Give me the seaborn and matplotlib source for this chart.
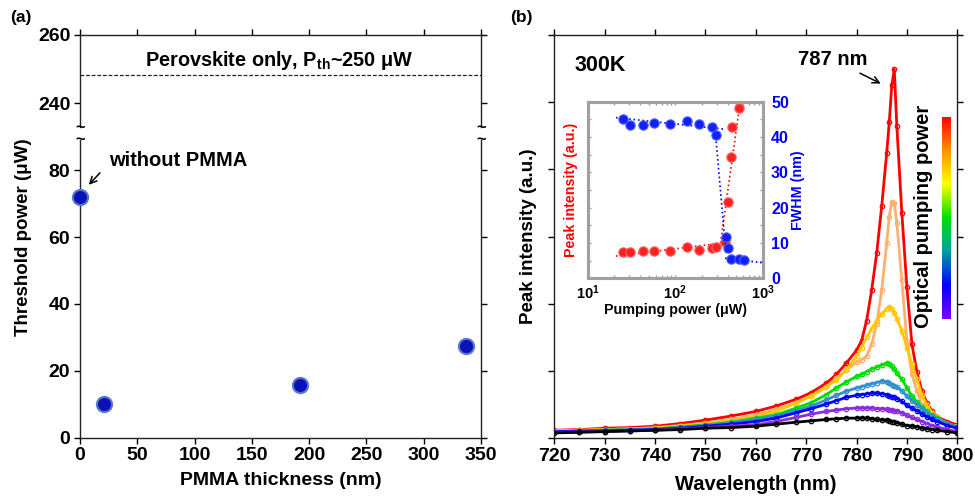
import numpy as np
import pandas as pd
import matplotlib
matplotlib.use("Agg")
import matplotlib.pyplot as plt
import matplotlib.ticker as mticker
import seaborn as sns
from matplotlib.colors import LinearSegmentedColormap

# ---- panel (a): lasing threshold vs PMMA thickness ----
pmma_thickness = [0, 20.5, 192, 336.5]
threshold_power = [71.9, 10.0, 15.9, 27.4]
perovskite_only = 248.2

# ---- panel (b): emission spectra, low -> high pumping power ----
wavelength = [720, 725, 730, 735, 740, 745, 750, 755, 760, 764, 768, 771, 774, 776, 778,
              780, 781, 782, 783, 784, 785, 786, 786.5, 787, 787.5, 788, 789, 790, 791,
              792, 793, 794, 795, 796, 798, 800]
spec_black = [0.08, 0.09, 0.10, 0.11, 0.12, 0.13, 0.15, 0.16, 0.18, 0.21, 0.24, 0.26, 0.28, 0.29, 0.30,
              0.30, 0.30, 0.30, 0.29, 0.28, 0.27, 0.27, 0.26, 0.25, 0.25, 0.23, 0.21, 0.19, 0.18,
              0.17, 0.15, 0.14, 0.13, 0.12, 0.10, 0.08]
spec_purple = [0.09, 0.095, 0.10, 0.11, 0.12, 0.14, 0.16, 0.18, 0.20, 0.25, 0.31, 0.36, 0.40, 0.42, 0.44,
               0.45, 0.45, 0.45, 0.45, 0.44, 0.44, 0.43, 0.42, 0.42, 0.41, 0.41, 0.38, 0.34, 0.31,
               0.28, 0.25, 0.22, 0.19, 0.17, 0.13, 0.10]
spec_blue = [0.10, 0.105, 0.11, 0.12, 0.13, 0.15, 0.18, 0.21, 0.25, 0.30, 0.38, 0.44, 0.51, 0.56, 0.61,
             0.64, 0.65, 0.66, 0.67, 0.67, 0.66, 0.65, 0.63, 0.62, 0.61, 0.59, 0.55, 0.49, 0.45,
             0.41, 0.36, 0.32, 0.28, 0.25, 0.19, 0.15]
spec_lightblue = [0.10, 0.11, 0.12, 0.13, 0.14, 0.16, 0.19, 0.23, 0.28, 0.33, 0.41, 0.48, 0.57, 0.64, 0.70,
                  0.75, 0.77, 0.79, 0.81, 0.83, 0.85, 0.84, 0.82, 0.80, 0.78, 0.76, 0.71, 0.63, 0.56,
                  0.50, 0.44, 0.38, 0.33, 0.29, 0.22, 0.17]
spec_green = [0.10, 0.11, 0.12, 0.13, 0.14, 0.17, 0.20, 0.24, 0.30, 0.35, 0.45, 0.53, 0.65, 0.75, 0.84,
              0.92, 0.95, 0.99, 1.03, 1.06, 1.09, 1.12, 1.11, 1.07, 1.03, 0.97, 0.88, 0.75, 0.63,
              0.54, 0.47, 0.40, 0.34, 0.30, 0.22, 0.17]
spec_gold = [0.11, 0.12, 0.13, 0.14, 0.15, 0.18, 0.21, 0.26, 0.32, 0.40, 0.52, 0.63, 0.76, 0.87, 1.02,
             1.22, 1.35, 1.50, 1.63, 1.75, 1.85, 1.93, 1.96, 1.93, 1.87, 1.78, 1.60, 1.35, 1.10,
             0.88, 0.64, 0.49, 0.38, 0.31, 0.22, 0.17]
spec_peach = [0.11, 0.12, 0.13, 0.14, 0.16, 0.19, 0.23, 0.28, 0.35, 0.43, 0.53, 0.63, 0.77, 0.89, 1.02,
              1.13, 1.17, 1.22, 1.40, 1.70, 2.20, 2.90, 3.30, 3.52, 3.50, 3.20, 2.35, 1.45, 0.95,
              0.70, 0.50, 0.40, 0.32, 0.27, 0.21, 0.18]
spec_red = [0.12, 0.13, 0.15, 0.16, 0.18, 0.22, 0.27, 0.33, 0.40, 0.48, 0.58, 0.68, 0.82, 0.95, 1.12,
            1.31, 1.45, 1.75, 2.20, 2.75, 3.45, 4.25, 4.70, 5.25, 5.49, 4.65, 3.35, 2.25, 1.40,
            0.98, 0.70, 0.52, 0.40, 0.32, 0.25, 0.20]
spectra = [spec_red, spec_peach, spec_gold, spec_green, spec_lightblue, spec_blue, spec_purple, spec_black]
spectra_colors = ["#ff0000", "#ffb070", "#ffc800", "#00dd00", "#2f8fd0", "#0000ff", "#8a2be2", "#000000"]
cbar_colors = ["#8000ff", "#0000ff", "#00a0a0", "#00e000", "#ffff00", "#ff9000", "#ff0000"]

# ---- inset: peak intensity and FWHM vs pumping power ----
pump_fwhm = [25.5, 30.4, 42.5, 57.2, 87.2, 137.8, 188.9, 266, 292.8, 380.8, 398, 437.7, 540.7, 611]
fwhm = [45.0, 43.4, 43.5, 43.9, 43.6, 44.5, 43.8, 42.8, 40.6, 11.8, 8.5, 5.5, 5.5, 5.2]
pump_int = [25.5, 30.4, 42.5, 57.2, 87.2, 137.8, 188.9, 266, 292.8, 370, 398, 438, 443, 536]
peak_int = [7.5, 7.45, 7.7, 7.6, 7.7, 8.8, 8.0, 8.7, 8.9, 10.4, 21.7, 34.3, 42.8, 48.3]
fit_int_low_x, fit_int_low_y = [21, 325], [6.3, 9.9]
fit_int_high_x, fit_int_high_y = [319, 551], [7.5, 49.8]
fit_fwhm_a_x, fit_fwhm_a_y = [21, 371], [45.5, 42.2]
fit_fwhm_b_x, fit_fwhm_b_y = [285, 381], [42.5, 6.6]
fit_fwhm_c_x, fit_fwhm_c_y = [371, 1000], [5.7, 4.4]

sns.set_theme(style="ticks")
plt.rcParams["font.family"] = ["Liberation Sans", "DejaVu Sans"]
plt.rcParams["font.weight"] = "bold"
plt.rcParams["axes.labelweight"] = "bold"
plt.rcParams["mathtext.fontset"] = "custom"
plt.rcParams["mathtext.rm"] = "Liberation Sans:bold"
plt.rcParams["mathtext.bf"] = "Liberation Sans:bold"
plt.rcParams["mathtext.it"] = "Liberation Sans:bold"
for key in ("text.color", "axes.labelcolor", "xtick.color", "ytick.color"):
    plt.rcParams[key] = "black"
plt.rcParams["axes.edgecolor"] = "#222222"
plt.rcParams["axes.linewidth"] = 1.0

fig = plt.figure(figsize=(9.75, 4.96), dpi=100)

# ================= panel (a) =================
ax_lo = fig.add_axes([0.0821, 0.1175, 0.4113, 0.6002])
ax_hi = fig.add_axes([0.0821, 0.744, 0.4113, 0.1855])

sns.scatterplot(x=pmma_thickness, y=threshold_power, ax=ax_lo, s=120, color="#0a12b8",
                edgecolor="#5a78d0", linewidth=1.5, zorder=5, clip_on=False, legend=False)
ax_lo.set_xlim(0, 350)
ax_lo.set_ylim(0, 89)
ax_lo.set_yticks([0, 20, 40, 60, 80])
ax_lo.set_xticks(range(0, 351, 50))
ax_lo.spines["top"].set_visible(False)
ax_lo.tick_params(axis="both", which="both", direction="out", length=4, width=1,
                  right=True, top=False, pad=3, labelsize=14)
ax_lo.set_xlabel("PMMA thickness (nm)", fontsize=14)
ax_lo.xaxis.set_label_coords(0.5, -0.115)
ax_lo.set_ylabel("Threshold power (μW)", fontsize=13.5)
ax_lo.yaxis.set_label_coords(-0.12, 0.674)

ax_hi.set_xlim(0, 350)
ax_hi.set_ylim(233, 260)
ax_hi.set_yticks([240, 260])
ax_hi.set_xticks(range(0, 351, 50))
ax_hi.spines["bottom"].set_visible(False)
ax_hi.tick_params(axis="both", direction="out", length=4, width=1, right=True, top=True,
                  bottom=False, labelbottom=False, labelsize=14, pad=3)
ax_hi.axhline(perovskite_only, color="#222222", lw=0.9, ls=(0, (3, 1.5)))
ax_hi.text(174, 252.6, r"Perovskite only, P$_{\mathrm{th}}$~250 μW", ha="center", va="center",
           fontsize=14.3, fontweight="bold")

# axis break marks
for xf in (0.0821, 0.0821 + 0.4113):
    fig.text(xf, 1 - 133.5 / 496, "~\n~", ha="center", va="center", fontsize=12,
             fontweight="bold", linespacing=0.75)

ax_lo.annotate("", xy=(6, 75), xytext=(19, 79.8),
               arrowprops=dict(arrowstyle="->", lw=1.1, color="black"))
ax_lo.text(25, 82.9, "without PMMA", ha="left", va="center", fontsize=14.5, fontweight="bold")

fig.text(0.010, 0.965, "(a)", fontsize=12.5, fontweight="bold", va="center")
fig.text(0.523, 0.965, "(b)", fontsize=12.5, fontweight="bold", va="center")

# ================= panel (b) =================
ax_b = fig.add_axes([0.5685, 0.1163, 0.4133, 0.8131])
for vals, col in zip(spectra, spectra_colors):
    sns.lineplot(x=wavelength, y=vals, ax=ax_b, color=col, lw=2.0, marker="o", markersize=3.2,
                 markerfacecolor="none", markeredgecolor=col, markeredgewidth=0.9, legend=False)
ax_b.set_xlim(720, 800)
ax_b.set_ylim(0, 6)
ax_b.set_xticks(range(720, 801, 10))
ax_b.set_yticks(range(0, 7))
ax_b.set_yticklabels([])
ax_b.tick_params(axis="both", direction="out", length=4, width=1, right=True, top=True, pad=3)
ax_b.tick_params(axis="x", labelsize=14)
ax_b.set_xlabel("Wavelength (nm)", fontsize=14.5)
ax_b.xaxis.set_label_coords(0.5, -0.091)
ax_b.set_ylabel("Peak intensity (a.u.)", fontsize=13.5)
ax_b.yaxis.set_label_coords(-0.042, 0.5)

ax_b.text(729.1, 5.55, "300K", ha="center", va="center", fontsize=15.5, fontweight="bold")
ax_b.text(775.2, 5.63, "787 nm", ha="center", va="center", fontsize=14.5, fontweight="bold")
ax_b.annotate("", xy=(785.3, 5.26), xytext=(780.2, 5.45),
              arrowprops=dict(arrowstyle="->", lw=1.1, color="black"))

# colour bar for pumping power
cax = fig.add_axes([941.7 / 975, 1 - 319.3 / 496, 9 / 975, 202.6 / 496])
cmap = LinearSegmentedColormap.from_list("pump", cbar_colors)
cax.imshow(np.linspace(0, 1, 256).reshape(-1, 1), aspect="auto", cmap=cmap, origin="lower")
cax.axis("off")
fig.text(923.3 / 975, 1 - 216.7 / 496, "Optical pumping power", rotation=90, ha="center",
         va="center", fontsize=14.5, fontweight="bold")

# ================= inset =================
ax_in = fig.add_axes([0.6028, 0.4389, 0.1795, 0.356])
ax_in2 = ax_in.twinx()
for a in (ax_in, ax_in2):
    a.set_xscale("log")
    a.set_xlim(10, 1000)
    a.set_ylim(0, 50)
    for sp in a.spines.values():
        sp.set_color("#a0a0a0")
        sp.set_linewidth(2.2)

ax_in.plot(fit_int_low_x, fit_int_low_y, color="#ff0000", ls=":", lw=1.2)
ax_in.plot(fit_int_high_x, fit_int_high_y, color="#ff0000", ls=":", lw=1.2)
sns.scatterplot(x=pump_int, y=peak_int, ax=ax_in, color="#ff2020", s=45, edgecolor="#ff6060",
                linewidth=0.8, zorder=4, legend=False)
ax_in2.plot(fit_fwhm_a_x, fit_fwhm_a_y, color="#0000ff", ls=":", lw=1.2)
ax_in2.plot(fit_fwhm_b_x, fit_fwhm_b_y, color="#0000ff", ls=":", lw=1.2)
ax_in2.plot(fit_fwhm_c_x, fit_fwhm_c_y, color="#0000ff", ls=":", lw=1.2)
sns.scatterplot(x=pump_fwhm, y=fwhm, ax=ax_in2, color="#1020ff", s=45, edgecolor="#5060ff",
                linewidth=0.8, zorder=5, legend=False)

ax_in.set_xticks([10, 100, 1000])
ax_in.set_xticklabels([r"$\mathbf{10^{1}}$", r"$\mathbf{10^{2}}$", r"$\mathbf{10^{3}}$"])
ax_in.xaxis.set_minor_locator(mticker.LogLocator(base=10, subs=np.arange(2, 10)))
ax_in.xaxis.set_minor_formatter(mticker.NullFormatter())
ax_in.set_yticks(range(0, 51, 10))
ax_in.yaxis.set_minor_locator(mticker.MultipleLocator(5))
ax_in.set_yticklabels([])
ax_in.tick_params(axis="both", which="both", direction="in", color="#a0a0a0", length=2.5,
                  width=1, top=True, labelsize=10.5, pad=4)
ax_in2.set_yticks(range(0, 51, 10))
ax_in2.yaxis.set_minor_locator(mticker.MultipleLocator(5))
ax_in2.tick_params(axis="y", which="both", direction="in", color="#a0a0a0", length=2.5,
                   width=1, labelsize=11.5, labelcolor="#0000ff", pad=6)
ax_in.set_xlabel("Pumping power (μW)", fontsize=10.3)
ax_in.xaxis.set_label_coords(0.5, -0.14)
ax_in.set_ylabel("Peak intensity (a.u.)", fontsize=10.3, color="#ff0000")
ax_in.yaxis.set_label_coords(-0.055, 0.5)
ax_in2.set_ylabel("FWHM (nm)", fontsize=10.3, color="#0000ff")
ax_in2.yaxis.set_label_coords(1.16, 0.5)

fig.savefig("out.png", dpi=100)
